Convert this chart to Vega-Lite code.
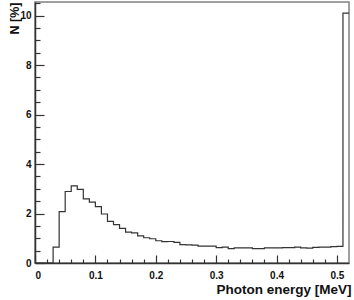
{
  "$schema": "https://vega.github.io/schema/vega-lite/v6.json",
  "autosize": {"type": "none"},
  "padding": {"left": 35, "top": 2, "right": 5, "bottom": 37},
  "width": 314,
  "height": 261,
  "config": {
    "view": {"stroke": "#808080", "strokeWidth": 1.5},
    "font": "Liberation Sans",
    "axis": {
      "grid": false,
      "domainColor": "#333",
      "domainWidth": 1.5,
      "tickColor": "#333",
      "tickWidth": 1.2,
      "labelFont": "Liberation Sans",
      "labelFontWeight": "bold",
      "labelFontSize": 10,
      "labelColor": "#111",
      "titleFont": "Liberation Sans",
      "titleColor": "#111"
    }
  },
  "data": {
    "values": [
      {"lo": 0.00, "hi": 0.01, "n": 0},
      {"lo": 0.01, "hi": 0.02, "n": 0},
      {"lo": 0.02, "hi": 0.03, "n": 0},
      {"lo": 0.03, "hi": 0.04, "n": 0.64},
      {"lo": 0.04, "hi": 0.05, "n": 2.08},
      {"lo": 0.05, "hi": 0.06, "n": 2.89},
      {"lo": 0.06, "hi": 0.07, "n": 3.12},
      {"lo": 0.07, "hi": 0.08, "n": 2.98},
      {"lo": 0.08, "hi": 0.09, "n": 2.59},
      {"lo": 0.09, "hi": 0.10, "n": 2.46},
      {"lo": 0.10, "hi": 0.11, "n": 2.28},
      {"lo": 0.11, "hi": 0.12, "n": 1.98},
      {"lo": 0.12, "hi": 0.13, "n": 1.68},
      {"lo": 0.13, "hi": 0.14, "n": 1.55},
      {"lo": 0.14, "hi": 0.15, "n": 1.40},
      {"lo": 0.15, "hi": 0.16, "n": 1.25},
      {"lo": 0.16, "hi": 0.17, "n": 1.22},
      {"lo": 0.17, "hi": 0.18, "n": 1.10},
      {"lo": 0.18, "hi": 0.19, "n": 1.02},
      {"lo": 0.19, "hi": 0.20, "n": 0.98},
      {"lo": 0.20, "hi": 0.21, "n": 0.90},
      {"lo": 0.21, "hi": 0.22, "n": 0.86},
      {"lo": 0.22, "hi": 0.23, "n": 0.87},
      {"lo": 0.23, "hi": 0.24, "n": 0.83},
      {"lo": 0.24, "hi": 0.25, "n": 0.74},
      {"lo": 0.25, "hi": 0.26, "n": 0.73},
      {"lo": 0.26, "hi": 0.27, "n": 0.72},
      {"lo": 0.27, "hi": 0.28, "n": 0.68},
      {"lo": 0.28, "hi": 0.29, "n": 0.68},
      {"lo": 0.29, "hi": 0.30, "n": 0.68},
      {"lo": 0.30, "hi": 0.31, "n": 0.62},
      {"lo": 0.31, "hi": 0.32, "n": 0.64},
      {"lo": 0.32, "hi": 0.33, "n": 0.58},
      {"lo": 0.33, "hi": 0.34, "n": 0.61},
      {"lo": 0.34, "hi": 0.35, "n": 0.61},
      {"lo": 0.35, "hi": 0.36, "n": 0.61},
      {"lo": 0.36, "hi": 0.37, "n": 0.58},
      {"lo": 0.37, "hi": 0.38, "n": 0.58},
      {"lo": 0.38, "hi": 0.39, "n": 0.61},
      {"lo": 0.39, "hi": 0.40, "n": 0.61},
      {"lo": 0.40, "hi": 0.41, "n": 0.61},
      {"lo": 0.41, "hi": 0.42, "n": 0.62},
      {"lo": 0.42, "hi": 0.43, "n": 0.62},
      {"lo": 0.43, "hi": 0.44, "n": 0.64},
      {"lo": 0.44, "hi": 0.45, "n": 0.61},
      {"lo": 0.45, "hi": 0.46, "n": 0.60},
      {"lo": 0.46, "hi": 0.47, "n": 0.63},
      {"lo": 0.47, "hi": 0.48, "n": 0.64},
      {"lo": 0.48, "hi": 0.49, "n": 0.64},
      {"lo": 0.49, "hi": 0.50, "n": 0.66},
      {"lo": 0.50, "hi": 0.51, "n": 0.67},
      {"lo": 0.51, "hi": 0.52, "n": 10.1}
    ]
  },
  "transform": [{"fold": ["lo", "hi"], "as": ["edge", "x"]}],
  "layer": [
    {
      "mark": {"type": "line", "stroke": "#333", "strokeWidth": 1.2, "clip": true},
      "encoding": {
        "x": {
          "field": "x", "type": "quantitative",
          "scale": {"domain": [0, 0.52], "nice": false, "zero": false},
          "axis": {
            "orient": "bottom",
            "values": [0, 0.1, 0.2, 0.3, 0.4, 0.5],
            "format": "~g",
            "tickSize": -8,
            "labelPadding": 15,
            "title": "Photon energy [MeV]",
            "titleFontSize": 13.5,
            "titleFontWeight": "bold",
            "titleAnchor": "end",
            "titleAlign": "right",
            "titleBaseline": "alphabetic",
            "titleX": 316,
            "titleY": 30
          }
        },
        "y": {
          "field": "n", "type": "quantitative",
          "scale": {"domain": [0, 10.55], "nice": false},
          "axis": {
            "orient": "left",
            "values": [0, 2, 4, 6, 8, 10],
            "format": "d",
            "tickSize": -9,
            "labelPadding": 13,
            "title": "N [%]",
            "titleFontSize": 12.5,
            "titleFontWeight": "bold",
            "titleAngle": 270,
            "titleAnchor": "end",
            "titleAlign": "right",
            "titleBaseline": "top",
            "titleX": -27,
            "titleY": 0
          }
        },
        "order": [{"field": "x", "type": "quantitative"}, {"field": "edge", "type": "nominal"}]
      }
    },
    {
      "mark": {"type": "line", "opacity": 0},
      "encoding": {
        "x": {
          "field": "x", "type": "quantitative",
          "axis": {
            "orient": "bottom",
            "values": [0.02, 0.04, 0.06, 0.08, 0.12, 0.14, 0.16, 0.18, 0.22, 0.24, 0.26, 0.28, 0.32, 0.34, 0.36, 0.38, 0.42, 0.44, 0.46, 0.48],
            "labels": false,
            "domain": false,
            "tickSize": -4,
            "title": null
          }
        },
        "y": {
          "field": "n", "type": "quantitative",
          "axis": {
            "orient": "left",
            "values": [0.5, 1, 1.5, 2.5, 3, 3.5, 4.5, 5, 5.5, 6.5, 7, 7.5, 8.5, 9, 9.5, 10.5],
            "labels": false,
            "domain": false,
            "tickSize": -5,
            "title": null
          }
        },
        "order": [{"field": "x", "type": "quantitative"}, {"field": "edge", "type": "nominal"}]
      }
    }
  ],
  "resolve": {"axis": {"x": "independent", "y": "independent"}}
}
